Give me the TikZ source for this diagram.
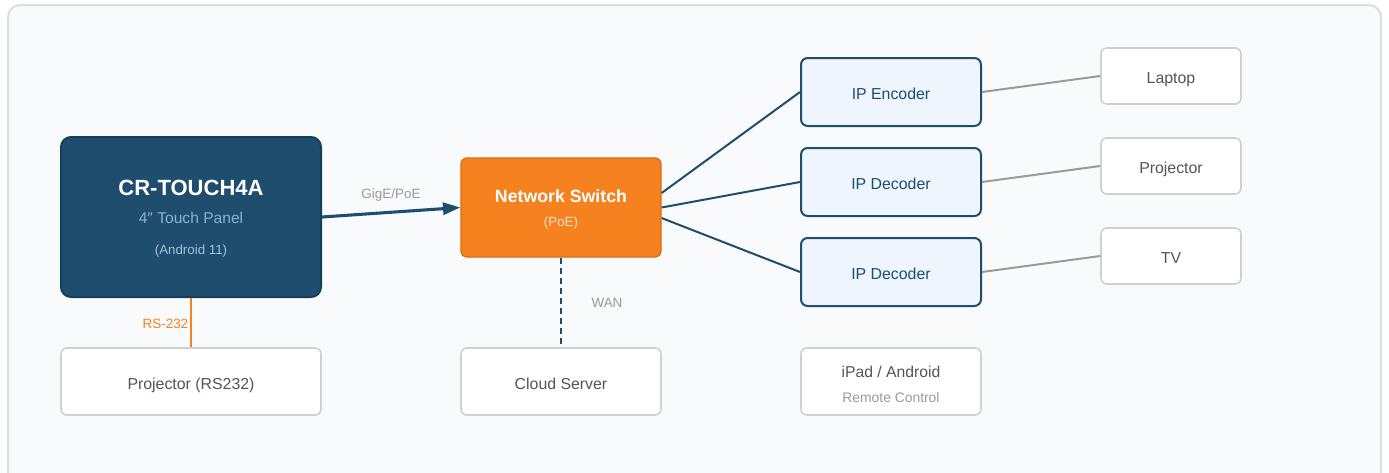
\documentclass[tikz,border=0pt]{standalone}
\usepackage{fontspec}
\setmainfont{Liberation Sans}
\usetikzlibrary{arrows.meta,calc}
\definecolor{navy}{HTML}{1E4D6E}
\definecolor{navyedge}{HTML}{15405C}
\definecolor{orng}{HTML}{F5821F}
\definecolor{orngedge}{HTML}{D96C14}
\definecolor{ipfill}{HTML}{EEF5FC}
\definecolor{grayedge}{HTML}{D0D0D0}
\definecolor{graytext}{HTML}{555555}
\definecolor{lbl}{HTML}{9A9A9A}
\definecolor{frame}{HTML}{D8DFE7}
\definecolor{framefill}{HTML}{F8FAFC}
\definecolor{subblue}{HTML}{8DB2CF}
\definecolor{subblue2}{HTML}{A5C2DA}
\definecolor{poetext}{HTML}{FDE3CC}
\tikzset{
  panel/.style={draw=navyedge, fill=navy, line width=1.5pt, rounded corners=7.5pt, minimum width=195pt, minimum height=120pt, inner sep=0pt},
  switchbox/.style={draw=orngedge, fill=orng, line width=1pt, rounded corners=4.5pt, minimum width=150pt, minimum height=74.25pt, inner sep=0pt},
  boxtext/.style={text height=11.4pt, text depth=0pt, font=\fontsize{11.9}{13}\selectfont},
  ipbox/.style={draw=navy, fill=ipfill, line width=1.5pt, rounded corners=5pt, minimum width=135pt, minimum height=51pt, inner sep=0pt, text=navy, boxtext},
  devbox/.style={draw=grayedge, fill=white, line width=1.2pt, rounded corners=4.5pt, minimum width=105pt, minimum height=42pt, inner sep=0pt, text=graytext, boxtext},
  lowbox/.style={draw=grayedge, fill=white, line width=1.2pt, rounded corners=4.5pt, minimum height=50.25pt, inner sep=0pt, text=graytext, boxtext},
  navyline/.style={draw=navy, line width=1.5pt},
  grayline/.style={draw=lbl, line width=1.5pt},
  basetext/.style={anchor=base, inner sep=0pt},
  lbltext/.style={text=lbl, font=\fontsize{10.1}{12}\selectfont, basetext},
}
\begin{document}
\begin{tikzpicture}[x=0.75pt,y=-0.75pt]
\useasboundingbox (0,0) rectangle (1389,472);
\clip (0,0) rectangle (1389,472);
\fill[white] (0,0) rectangle (1389,472);
\draw[frame, fill=framefill, line width=1.5pt, rounded corners=9pt] (8,5) rectangle (1381,495);

% nodes
\node[panel] (cr) at (191,217) {};
\node[basetext, text=white, font=\bfseries\fontsize{16.5}{18}\selectfont] (crt) at (191,195) {CR-TOUCH4A};
\node[basetext, text=subblue, font=\fontsize{11.7}{13}\selectfont] (crs) at (191,223.5) {4″ Touch Panel};
\node[basetext, text=subblue2, font=\fontsize{10}{12}\selectfont] (cra) at (191,254) {(Android 11)};

\node[switchbox] (sw) at (561,207.5) {};
\node[basetext, text=white, font=\bfseries\fontsize{13.3}{15}\selectfont] (swt) at (561,202) {Network Switch};
\node[basetext, text=poetext, font=\fontsize{10}{12}\selectfont] (swp) at (561,226) {(PoE)};

\node[ipbox] (enc) at (891,92) {IP Encoder};
\node[ipbox] (dec1) at (891,182) {IP Decoder};
\node[ipbox] (dec2) at (891,272) {IP Decoder};

\node[devbox] (lap) at (1171,76) {Laptop};
\node[devbox] (prj) at (1171,166) {Projector};
\node[devbox] (tv) at (1171,256) {TV};

\node[lowbox, minimum width=195pt] (prs) at (191,381.5) {Projector (RS232)};
\node[lowbox, minimum width=150pt] (cloud) at (561,381.5) {Cloud Server};
\node[lowbox, minimum width=135pt] (ipad) at (891,381.5) {};
\node[basetext, text=graytext, font=\fontsize{11.8}{13}\selectfont] (ipadt) at (891,377.5) {iPad / Android};
\node[basetext, text=lbl, font=\fontsize{10.4}{12}\selectfont] (ipads) at (891,402) {Remote Control};

% connectors
\draw[draw=navy, line width=2.3pt, -{Triangle[length=13pt,width=9pt]}] (cr.east) -- (sw.west);
\node[lbltext] (gige) at (391,198) {GigE/PoE};

\draw[draw=orng, line width=1.6pt] (cr.south) -- (prs.north);
\node[lbltext, text=orng, anchor=base east] (rs) at (188.5,328) {RS-232};

\draw[draw=navy, line width=1.3pt, dash pattern=on 4.5pt off 3pt] (sw.south) -- (cloud.north);
\node[lbltext] (wan) at (607,307) {WAN};

\draw[navyline] ([yshift=10.9pt]sw.east) -- (enc.west);
\draw[navyline] ([yshift=0pt]sw.east) -- (dec1.west);
\draw[navyline] ([yshift=-7.9pt]sw.east) -- (dec2.west);

\draw[grayline] (enc.east) -- (lap.west);
\draw[grayline] (dec1.east) -- (prj.west);
\draw[grayline] (dec2.east) -- (tv.west);
\end{tikzpicture}
\end{document}
